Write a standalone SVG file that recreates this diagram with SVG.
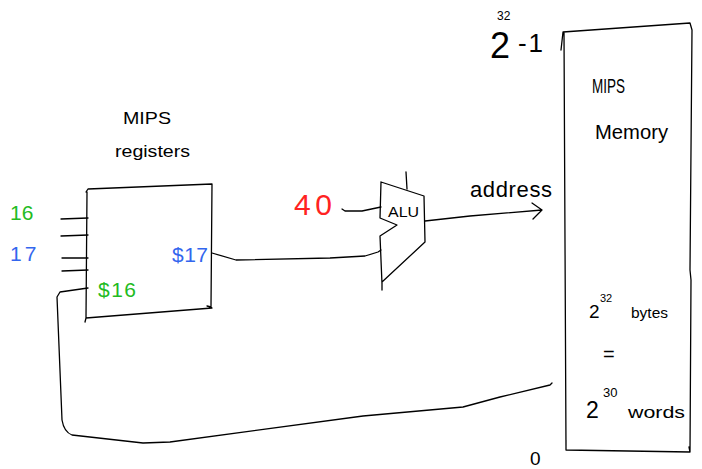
<svg xmlns="http://www.w3.org/2000/svg" width="702" height="469" viewBox="0 0 702 469">
<style>
.ln{fill:none;stroke:#000;stroke-width:1.3;stroke-linecap:round;stroke-linejoin:round}
.t{font-family:"Liberation Sans",Arial,sans-serif;fill:#000}
.g{fill:#22bb22}
.b{fill:#3366ee}
.r{fill:#ff2222}
</style>
<rect width="702" height="469" fill="#fff"/>
<g id="registers">
<path class="ln" d="M86,192 L88,189 L212,184 L211,307 L207,306 M212,308 L86,318 L85,322 M86,318 L87,192"/>
<text class="t" x="123" y="124" font-size="17" textLength="48" lengthAdjust="spacingAndGlyphs">MIPS</text>
<text class="t" x="115" y="157" font-size="17" textLength="75" lengthAdjust="spacingAndGlyphs">registers</text>
<text class="t g" x="98" y="297" font-size="21" textLength="38" lengthAdjust="spacing">$16</text>
<text class="t b" x="172" y="262" font-size="21" textLength="36" lengthAdjust="spacing">$17</text>
</g>
<g id="inputs">
<text class="t g" x="10" y="220" font-size="21">16</text>
<text class="t b" x="10" y="261" font-size="21" letter-spacing="3">17</text>
</g>
<g id="alu">
<path class="ln" d="M381,182 L424,196 L425,242 L382,282 L382,290 M382,284 L380,236 L397,225 L380,218 L381,182"/>
<path class="ln" d="M406,172 L407,189"/>
<text class="t" x="388" y="217" font-size="14" textLength="31" lengthAdjust="spacingAndGlyphs">ALU</text>
</g>
<g id="const40">
<text class="t r" x="294" y="215" font-size="30" textLength="38" lengthAdjust="spacing">40</text>
</g>
<g id="memory">
<path class="ln" d="M561,50 L563,32 L690,23 L692,30 L690,270 L691,280 L690,452 L689,447 M690,452 L566,450 L566,440 M566,450 L564,32"/>
<text class="t" x="592" y="93" font-size="21" textLength="33" lengthAdjust="spacingAndGlyphs">MIPS</text>
<text class="t" x="595" y="139" font-size="21" textLength="73" lengthAdjust="spacingAndGlyphs">Memory</text>
<text class="t" x="589" y="318" font-size="19">2</text>
<text class="t" x="600" y="302" font-size="11">32</text>
<text class="t" x="631" y="318" font-size="15" textLength="37" lengthAdjust="spacingAndGlyphs">bytes</text>
<text class="t" x="603" y="361" font-size="20">=</text>
<text class="t" x="586" y="418" font-size="23">2</text>
<text class="t" x="603" y="397" font-size="13">30</text>
<text class="t" x="628" y="418" font-size="17" textLength="57" lengthAdjust="spacingAndGlyphs">words</text>
</g>
<g id="addr-labels">
<text class="t" x="490" y="58" font-size="36">2</text>
<text class="t" x="497" y="20" font-size="12">32</text>
<text class="t" x="518" y="52" font-size="26" textLength="25" lengthAdjust="spacing">-1</text>
<text class="t" x="530" y="465" font-size="19">0</text>
</g>
<g id="connectors">
<path class="ln" d="M61,219 L88,218 M61,236 L88,235 M62,258 L88,258 M62,271 L88,270"/>
<path class="ln" d="M212,253 L236,260 L330,258 L365,256 L378,252 L381,250"/>
<path class="ln" d="M381,207 L362,211 L345,211 L342,209"/>
<path class="ln" d="M425,221 L470,216 L542,210 M532,203 L542,210 L533,219"/>
<path class="ln" d="M88,288 L60,292 L57,297 L62,420 Q64,432 72,435 L143,443 L170,442 L363,416 L463,407 L500,397 L550,385 L552,383"/>
<text class="t" x="470" y="197" font-size="22" textLength="82" lengthAdjust="spacing">address</text>
</g>
</svg>
